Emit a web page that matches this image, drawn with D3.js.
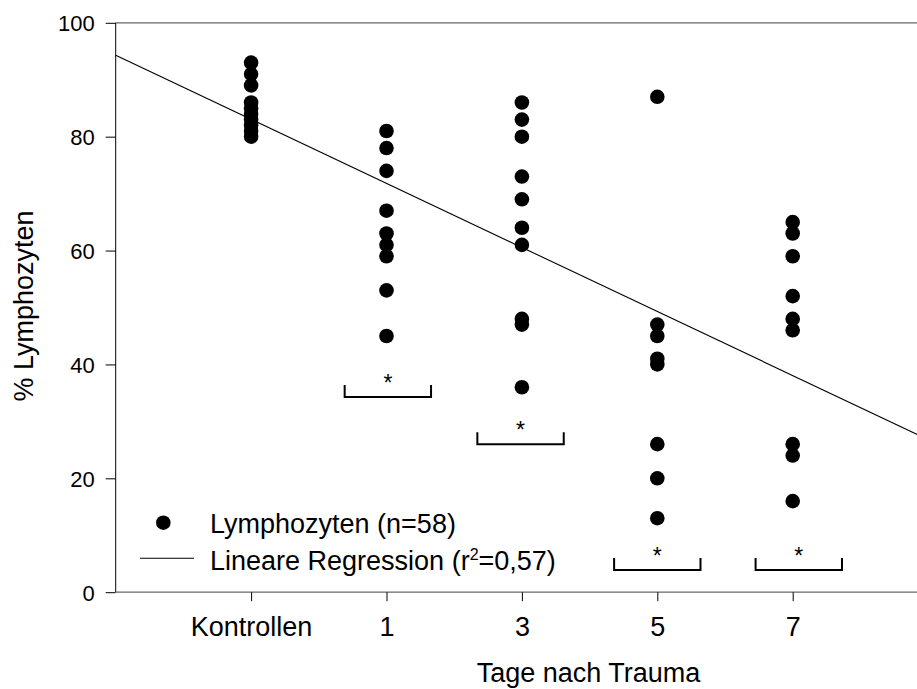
<!DOCTYPE html>
<html>
<head>
<meta charset="utf-8">
<script src="https://cdn.jsdelivr.net/npm/d3@7"></script>
<style>
  body { margin: 0; background: #fff; }
  text { font-family: 'Liberation Sans', Arial, sans-serif; fill: #000; }
</style>
</head>
<body>
<div class="chart"></div>
<script>
/* Chart data
--------------------------------------------------- */
const categories = ['Kontrollen', '1', '3', '5', '7'];
const categoryPos = [1, 2, 3, 4, 5];

const kontrollen = [93, 91, 89, 86, 85, 84, 83, 82, 81, 80];
const tag1 = [81, 78, 74, 67, 63, 61, 59, 53, 45];
const tag3 = [86, 83, 80, 73, 69, 64, 61, 48, 47, 36];
const tag5 = [87, 47, 45, 41, 40, 26, 20, 13];
const tag7 = [65, 63, 59, 52, 48, 46, 26, 24, 16];
const groups = [kontrollen, tag1, tag3, tag5, tag7];

const yTicks = [0, 20, 40, 60, 80, 100];

// regression line, in axis position units
const regIntercept = 94.3;
const regSlope = -11.25;

// significance brackets
const bracketPos = [2.01, 2.99, 4.0, 5.045];
const bracketVal = [34.3, 26.0, 3.9, 3.9];

const legendLabels = ['Lymphozyten (n=58)', 'Lineare Regression (r', '2', '=0,57)'];

/* Set up svg and scales
--------------------------------------------------- */
const width = 917;
const height = 689;

const x = d3.scaleLinear().domain([0, 6]).range([115.7, 928.1]);
const y = d3.scaleLinear().domain([0, 100]).range([592.2, 22.8]);

const svg = d3
  .select('.chart')
  .append('svg')
  .attr('width', width)
  .attr('height', height);

const points = [];
groups.forEach((vals, i) => vals.forEach(v => points.push({ pos: categoryPos[i], value: v })));

/* Frame and axes
--------------------------------------------------- */
svg
  .append('line')
  .attr('x1', x(0))
  .attr('x2', width)
  .attr('y1', y(100))
  .attr('y2', y(100))
  .attr('stroke', '#666')
  .attr('stroke-width', 1.3);

const yAxis = svg
  .append('g')
  .attr('transform', 'translate(' + x(0) + ',0)')
  .call(d3.axisLeft(y).tickValues(yTicks).tickSize(10).tickPadding(11));

yAxis.select('.domain').attr('stroke', '#000').attr('d', `M0,${y(100)}V${y(0)}`);
yAxis.selectAll('.tick line').attr('stroke', '#000');
yAxis.selectAll('.tick text').style('font-size', '22px').attr('dy', '0.36em');

const xAxis = svg
  .append('g')
  .attr('transform', 'translate(0,' + y(0) + ')')
  .call(
    d3
      .axisBottom(x)
      .tickValues(categoryPos)
      .tickFormat((d, i) => categories[i])
      .tickSize(9)
      .tickPadding(16),
  );

xAxis.select('.domain').attr('stroke', '#666').attr('stroke-width', 1.3).attr('d', `M${x(0)},0H${width}`);
xAxis.selectAll('.tick line').attr('stroke', '#000');
xAxis.selectAll('.tick text').style('font-size', '27px').attr('dy', '0.71em');

svg
  .append('text')
  .attr('x', 588.5)
  .attr('y', 682)
  .attr('text-anchor', 'middle')
  .style('font-size', '27px')
  .text('Tage nach Trauma');

svg
  .append('text')
  .attr('transform', 'translate(33,306) rotate(-90)')
  .attr('text-anchor', 'middle')
  .style('font-size', '27px')
  .text('% Lymphozyten');

/* Regression line and data points
--------------------------------------------------- */
const regLine = d3
  .line()
  .x(d => x(d))
  .y(d => y(regIntercept + regSlope * d));

svg
  .append('path')
  .datum([0, 6])
  .attr('d', regLine)
  .attr('fill', 'none')
  .attr('stroke', '#000')
  .attr('stroke-width', 1.1);

svg
  .selectAll('.dot')
  .data(points)
  .enter()
  .append('circle')
  .attr('class', 'dot')
  .attr('cx', d => x(d.pos))
  .attr('cy', d => y(d.value))
  .attr('r', 7.3)
  .attr('fill', '#000');

/* Significance brackets
--------------------------------------------------- */
const halfW = 0.319;
const brackets = bracketPos.map((p, i) => ({ pos: p, value: bracketVal[i] }));

svg
  .selectAll('.bracket')
  .data(brackets)
  .enter()
  .append('path')
  .attr('class', 'bracket')
  .attr('fill', 'none')
  .attr('stroke', '#000')
  .attr('stroke-width', 2)
  .attr('d', d => {
    const l = x(d.pos - halfW);
    const r = x(d.pos + halfW);
    const b = y(d.value);
    return `M${l},${b - 12}V${b}H${r}V${b - 12}`;
  });

svg
  .selectAll('.star')
  .data(brackets)
  .enter()
  .append('text')
  .attr('class', 'star')
  .attr('x', d => x(d.pos))
  .attr('y', d => y(d.value) - 6)
  .attr('text-anchor', 'middle')
  .style('font-size', '23px')
  .text('*');

/* Legend
--------------------------------------------------- */
const legend = svg.append('g');

legend.append('circle').attr('cx', 163.3).attr('cy', 522.7).attr('r', 7.3).attr('fill', '#000');
legend
  .append('line')
  .attr('x1', 140)
  .attr('x2', 194)
  .attr('y1', 558.3)
  .attr('y2', 558.3)
  .attr('stroke', '#000')
  .attr('stroke-width', 1.1);

legend
  .append('text')
  .attr('x', 210)
  .attr('y', 532.7)
  .style('font-size', '27px')
  .text(legendLabels[0]);

const regText = legend
  .append('text')
  .attr('x', 210)
  .attr('y', 570)
  .style('font-size', '27px');

regText.append('tspan').text(legendLabels[1]);
regText.append('tspan').attr('dy', -10).style('font-size', '16px').text(legendLabels[2]);
regText.append('tspan').attr('dy', 10).text(legendLabels[3]);
</script>
</body>
</html>
